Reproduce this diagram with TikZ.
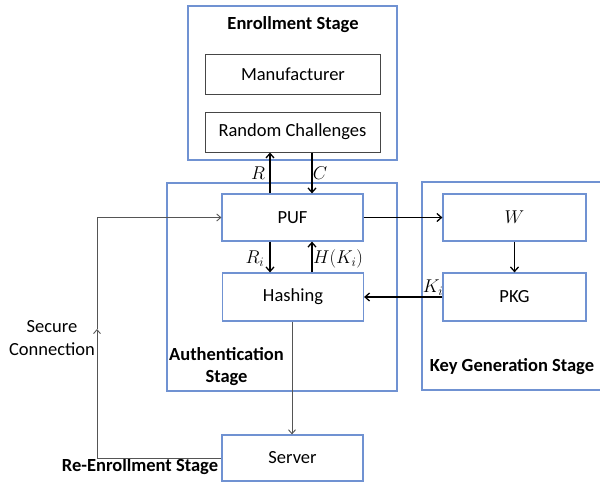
\RequirePackage{fix-cm}
\documentclass[tikz,border=0pt]{standalone}
\usepackage{fontspec}
\setmainfont{Carlito}
\usetikzlibrary{arrows.meta}
\definecolor{bb}{RGB}{112,146,210}
\definecolor{gb}{RGB}{70,70,70}
\definecolor{tl}{RGB}{85,85,85}
\newcommand\mysz{\fontsize{18.5}{22.5}\selectfont}
\tikzset{
  stagebox/.style={draw=bb, line width=1.2pt, rectangle, inner sep=0pt},
  bluebox/.style={draw=bb, line width=1.2pt, rectangle, inner sep=0pt, fill=white},
  graybox/.style={draw=gb, line width=1pt, rectangle, inner sep=0pt},
  lbl/.style={inner sep=0pt, font=\mysz},
  boldlbl/.style={inner sep=0pt, font=\mysz\bfseries, align=center},
  arr/.style={line width=1.3pt, -{Straight Barb[length=4.5pt,width=8pt]}},
  tarr/.style={draw=tl, line width=0.9pt, -{Straight Barb[length=4pt,width=7pt]}},
}
\begin{document}
\begin{tikzpicture}[x=1pt, y=-1pt, font=\mysz]
\useasboundingbox (0,0) rectangle (600,482);
% stage boxes
\node[stagebox, minimum width=209pt, minimum height=154pt] (enr) at (292.5,83) {};
\node[stagebox, minimum width=230pt, minimum height=208pt] (authbox) at (282,287) {};
\node[stagebox, minimum width=186pt, minimum height=208pt] (kgen) at (515,286) {};
% inner boxes
\node[graybox, minimum width=175pt, minimum height=40pt] (man) at (293,74) {Manufacturer};
\node[graybox, minimum width=175pt, minimum height=40pt] (rc) at (292.5,132) {Random Challenges};
\node[bluebox, minimum width=141pt, minimum height=47pt] (puf) at (292.5,217.5) {PUF};
\node[bluebox, minimum width=141pt, minimum height=48pt] (hash) at (293,297) {Hashing};
\node[bluebox, minimum width=143pt, minimum height=47pt] (w) at (514.5,217.5) {$W$};
\node[bluebox, minimum width=143pt, minimum height=48pt] (pkg) at (514.5,297) {PKG};
\node[bluebox, minimum width=141pt, minimum height=46pt] (server) at (292.5,458) {Server};
% stage titles
\node[boldlbl] (tenr) at (293,25) {Enrollment Stage};
\node[boldlbl] (tauth) at (226.5,366.5) {Authentication\\Stage};
\node[boldlbl] (tkgen) at (512,367) {Key Generation Stage};
\node[boldlbl] (tre) at (140,467) {Re-Enrollment Stage};
\node[lbl, align=center] (tsec) at (52,338) {Secure\\Connection};
% helper coordinates
\coordinate (xR) at (270,0);
\coordinate (xC) at (312,0);
\coordinate (xS) at (292,0);
\coordinate (lb) at (97,458);
\coordinate (lm) at (97,329);
\coordinate (lt) at (97,217.5);
% arrows
\draw[arr] (puf.north -| xR) -- (rc.south -| xR);
\draw[arr] (rc.south -| xC) -- (puf.north -| xC);
\draw[arr] (puf.south -| xR) -- (hash.north -| xR);
\draw[arr] (hash.north -| xC) -- (puf.south -| xC);
\draw[arr] (puf.east) -- (w.west);
\draw[arr] (w.south) -- (pkg.north);
\draw[arr] (pkg.west) -- (hash.east);
\draw[tarr] (hash.south -| xS) -- (server.north -| xS);
\draw[tarr] (server.west) -- (lb) -- (lm);
\draw[tarr] (lm) -- (lt) -- (puf.west);
% labels
\node[lbl] (lR) at (258,173) {$R$};
\node[lbl] (lC) at (320,173) {$C$};
\node[lbl] (lRi) at (255,259) {$R_i$};
\node[lbl] (lH) at (338,259) {$H(K_i)$};
\node[lbl] (lK) at (433,288) {$K_i$};
\end{tikzpicture}
\end{document}
